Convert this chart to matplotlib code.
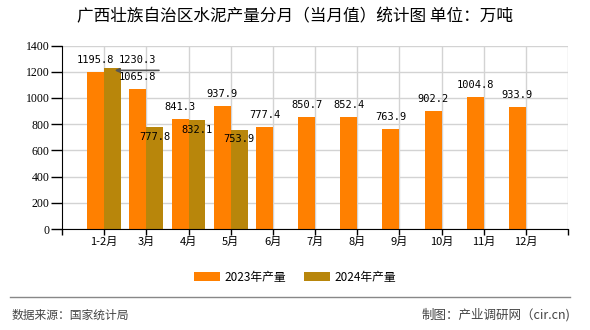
import matplotlib
matplotlib.use("Agg")
import matplotlib.pyplot as plt
from matplotlib.lines import Line2D
from matplotlib.patches import Patch
import numpy as np

plt.rcParams['font.family'] = ['Noto Sans CJK SC', 'DejaVu Sans']

months = ['1-2月', '3月', '4月', '5月', '6月', '7月', '8月', '9月', '10月', '11月', '12月']
prod_2023 = [1195.8, 1065.8, 841.3, 937.9, 777.4, 850.7, 852.4, 763.9, 902.2, 1004.8, 933.9]
prod_2024 = [1230.3, 777.8, 832.1, 753.9]
series_names = ['2023年产量', '2024年产量']
title = '广西壮族自治区水泥产量分月（当月值）统计图 单位：万吨'
source = '数据来源：国家统计局'
maker = '制图：产业调研网（cir.cn)'
yticks = [0, 200, 400, 600, 800, 1000, 1200, 1400]

c23 = '#FF8000'
c24 = '#B8860B'
# label offsets (pixels) for the 2024 labels: (dx, dy) relative to default above-bar spot
off24 = [(25, -4), (0, -22), (0, -22), (0, -21)]

fig = plt.figure(figsize=(5.9, 3.3), dpi=100)
ax = fig.add_axes([62/590, 1-229/330, 506/590, 183.5/330])

x = np.arange(len(months))
w = 0.4
ax.bar(x - w/2, prod_2023, width=w, color=c23, zorder=3)
x24 = np.arange(len(prod_2024))
ax.bar(x24 + w/2, prod_2024, width=w, color=c24, zorder=3)

ax.set_xlim(-1, len(months))
ax.set_ylim(0, 1400)
ax.set_yticks(yticks)
ax.set_yticklabels([str(v) for v in yticks], family='Liberation Serif', fontsize=8.5)
ax.set_xticks(np.arange(-1, len(months) + 1))
ax.set_xticklabels([''] + months + [''], fontsize=8)
ax.tick_params(axis='x', length=4, width=1, direction='out', pad=2, colors='black')
ax.tick_params(axis='y', length=8, width=1, direction='out', pad=1)

for v in yticks:
    ax.axhline(v, color='#d3d3d3', lw=1, zorder=1)
for i in range(len(months) + 1):
    ax.axvline(i, color='#d3d3d3', lw=1, zorder=1)

for s in ['top', 'right']:
    ax.spines[s].set_visible(False)
ax.spines['left'].set_color('black')
ax.spines['bottom'].set_color('black')
ax.spines['left'].set_zorder(4)
ax.spines['bottom'].set_zorder(4)

lab_font = dict(family='DejaVu Sans Mono', fontsize=7.5, ha='center', va='center', zorder=5)
for i, v in enumerate(prod_2023):
    ax.annotate(f'{v:.1f}', (i - w/2, v), xytext=(0, 12), textcoords='offset pixels', **lab_font)
for i, v in enumerate(prod_2024):
    dx, dy = off24[i]
    if i == 0:
        ax.annotate('', xy=(i + w/2 + 0.05, v - 20), xytext=(i + w/2 + 1.1, v - 20),
                    arrowprops=dict(arrowstyle='-|>', color='#555555', lw=1.2,
                                    mutation_scale=6, shrinkA=0, shrinkB=0), zorder=5)
    ax.annotate(f'{v:.1f}', (i + w/2, v), xytext=(dx, 12 + dy), textcoords='offset pixels', **lab_font)

fig.text(0.5, 1 - 17/330, title, ha='center', va='center', fontsize=12)

handles = [Patch(facecolor=c23), Patch(facecolor=c24)]
fig.legend(handles, series_names, loc='center', bbox_to_anchor=(0.5, 1 - 277/330), ncol=2,
           frameon=False, fontsize=8.5, handlelength=2.2, handleheight=0.7, columnspacing=1.5,
           handletextpad=0.4)

fig.add_artist(Line2D([10/590, 570/590], [1 - 297/330, 1 - 297/330], color='#888888', lw=1))
fig.text(12/590, 1 - 315/330, source, ha='left', va='center', fontsize=8.5, color='#444444')
fig.text(570/590, 1 - 315/330, maker, ha='right', va='center', fontsize=9, color='#444444')

fig.savefig('out.png', dpi=100)
